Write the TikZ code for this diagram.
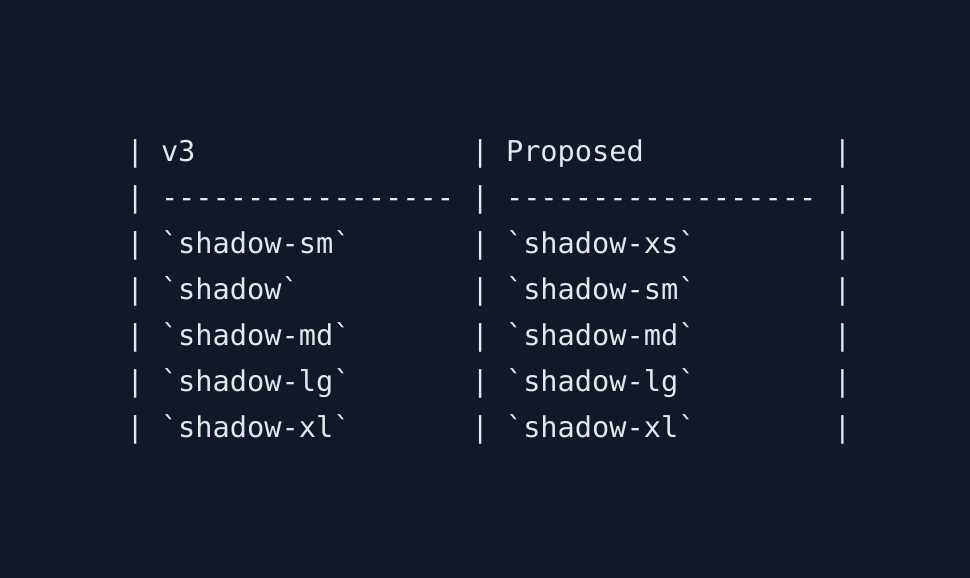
\documentclass[tikz,border=0pt]{standalone}
\usepackage{fontspec}
\setmonofont{DejaVu Sans Mono}
\definecolor{bg}{HTML}{111827}
\definecolor{fg}{HTML}{E5E7EB}
\newcommand{\bq}{\symbol{96}}
\begin{document}
\begin{tikzpicture}[x=1pt,y=1pt,
  cell/.style={anchor=base west,inner sep=0pt,outer sep=0pt,text=fg,font=\ttfamily\fontsize{28.65pt}{32pt}\selectfont}]
\fill[bg] (0,0) rectangle (970,578);
\useasboundingbox (0,0) rectangle (970,578);
\def\xz{126.5}
\def\pp{17.25}
\foreach \r/\a/\b in {0/v3/Proposed,
  1/-----------------/------------------,
  2/\bq shadow-sm\bq/\bq shadow-xs\bq,
  3/\bq shadow\bq/\bq shadow-sm\bq,
  4/\bq shadow-md\bq/\bq shadow-md\bq,
  5/\bq shadow-lg\bq/\bq shadow-lg\bq,
  6/\bq shadow-xl\bq/\bq shadow-xl\bq}{
  \pgfmathsetmacro{\yy}{578-162-46*\r}
  \node[cell] (p0-\r) at (\xz,\yy) {|};
  \node[cell] (a-\r) at (\xz+2*\pp,\yy) {\a};
  \node[cell] (p1-\r) at (\xz+20*\pp,\yy) {|};
  \node[cell] (b-\r) at (\xz+22*\pp,\yy) {\b};
  \node[cell] (p2-\r) at (\xz+41*\pp,\yy) {|};
}
\end{tikzpicture}
\end{document}
